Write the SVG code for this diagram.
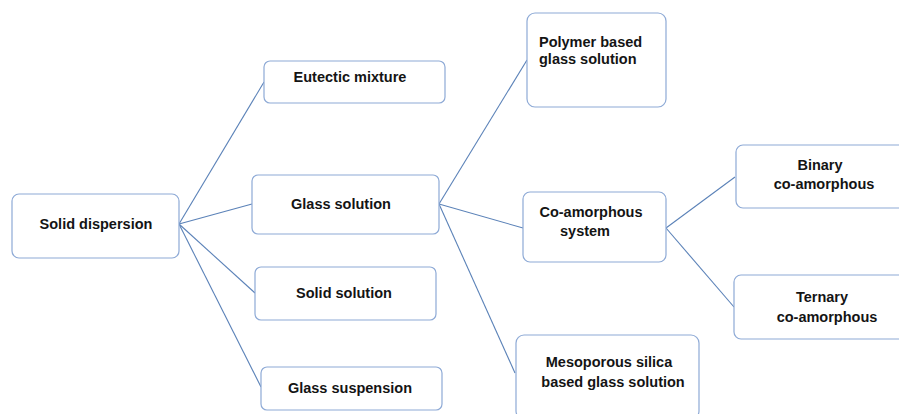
<svg xmlns="http://www.w3.org/2000/svg" width="899" height="414" viewBox="0 0 899 414">
<style>
.box{fill:#fff;stroke:#8eaad6;stroke-width:1.2}
.t{font-family:"Liberation Sans",Arial,sans-serif;font-weight:bold;font-size:14.5px;fill:#141414}
.c{text-anchor:middle}
.ln{stroke:#5b82b8;stroke-width:1.1;fill:none}
</style>
<rect width="899" height="414" fill="#fff"/>
<g id="connectors">
<line class="ln" x1="179" y1="224" x2="264" y2="82"/>
<line class="ln" x1="179" y1="224" x2="252" y2="204"/>
<line class="ln" x1="179" y1="224" x2="255" y2="293"/>
<line class="ln" x1="179" y1="224" x2="261" y2="387"/>
<line class="ln" x1="439" y1="204" x2="527" y2="60"/>
<line class="ln" x1="439" y1="204" x2="523" y2="228"/>
<line class="ln" x1="439" y1="204" x2="515" y2="373"/>
<line class="ln" x1="666" y1="228" x2="735" y2="177"/>
<line class="ln" x1="666" y1="228" x2="734" y2="307"/>
</g>
<g id="solid-dispersion"><rect class="box" x="12" y="194" width="167" height="64" rx="7"/><text class="t c" x="96" y="229">Solid dispersion</text></g>
<g id="eutectic-mixture"><rect class="box" x="264" y="61" width="181" height="42" rx="6"/><text class="t c" x="350" y="82">Eutectic mixture</text></g>
<g id="glass-solution"><rect class="box" x="252" y="175" width="187" height="59" rx="6"/><text class="t c" x="341" y="209">Glass solution</text></g>
<g id="solid-solution"><rect class="box" x="255" y="267" width="181" height="53" rx="6"/><text class="t c" x="344" y="298">Solid solution</text></g>
<g id="glass-suspension"><rect class="box" x="261" y="367" width="181" height="43" rx="6"/><text class="t c" x="350" y="393">Glass suspension</text></g>
<g id="polymer-based"><rect class="box" x="527" y="13" width="139" height="94" rx="8"/><text class="t" x="539" y="47">Polymer based</text><text class="t" x="539" y="64">glass solution</text></g>
<g id="co-amorphous"><rect class="box" x="523" y="192" width="143" height="70" rx="7"/><text class="t c" x="591" y="217">Co-amorphous</text><text class="t c" x="585" y="236">system</text></g>
<g id="mesoporous"><rect class="box" x="516" y="335" width="183" height="84" rx="8"/><text class="t c" x="609" y="367">Mesoporous silica</text><text class="t c" x="613" y="387">based glass solution</text></g>
<g id="binary"><rect class="box" x="736" y="145" width="175" height="63" rx="7"/><text class="t c" x="820" y="170">Binary</text><text class="t c" x="824" y="189">co-amorphous</text></g>
<g id="ternary"><rect class="box" x="734" y="275" width="177" height="64" rx="7"/><text class="t c" x="822" y="302">Ternary</text><text class="t c" x="827" y="322">co-amorphous</text></g>
</svg>
